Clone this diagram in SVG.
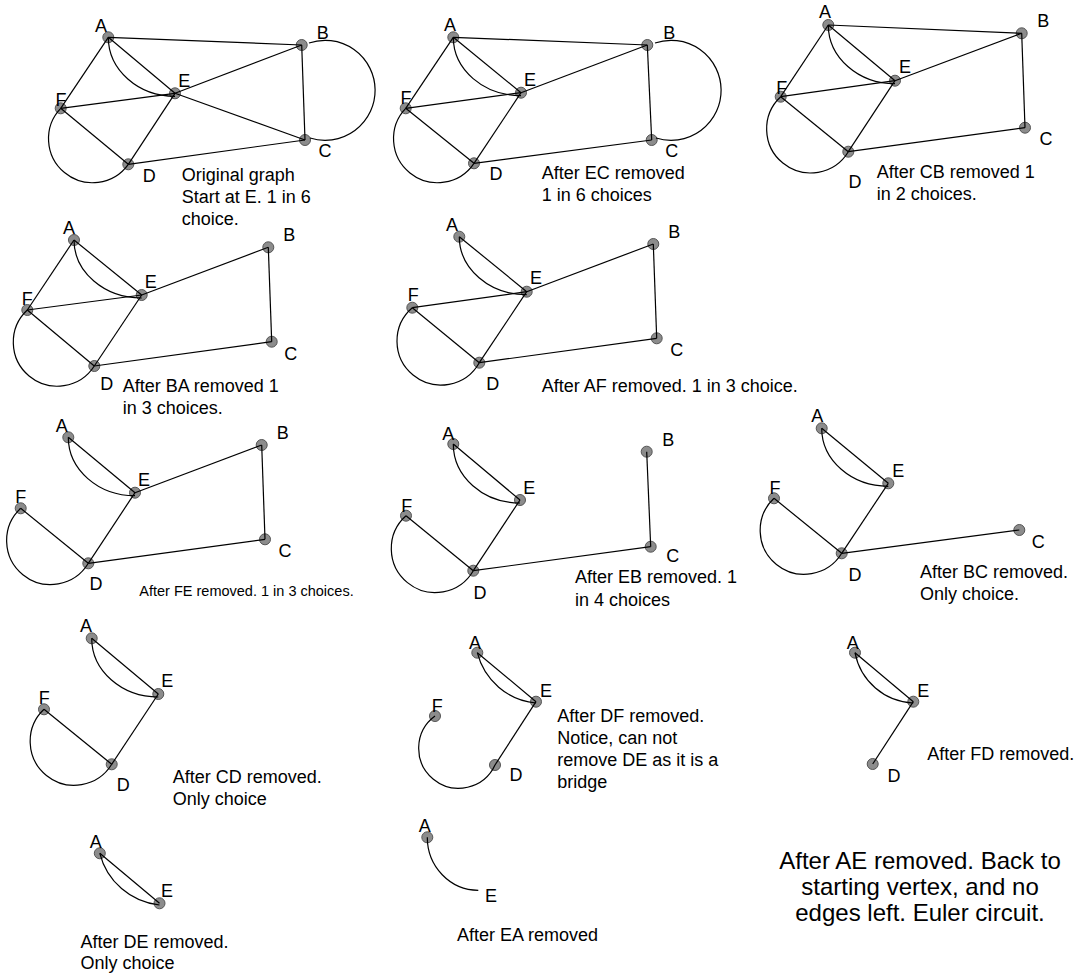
<svg xmlns="http://www.w3.org/2000/svg" width="1083" height="974" viewBox="0 0 1083 974">
<style>
.e{fill:none;stroke:#000;stroke-width:1.2}
.n{fill:#8c8c8c;stroke:#555;stroke-width:1}
.l{font-family:"Liberation Sans",Arial,sans-serif;font-size:18px;fill:#000;text-anchor:middle}
.t{font-family:"Liberation Sans",Arial,sans-serif;font-size:18px;fill:#000}
.s{font-family:"Liberation Sans",Arial,sans-serif;font-size:14.5px;fill:#000}
.b{font-family:"Liberation Sans",Arial,sans-serif;font-size:24px;fill:#000;text-anchor:middle}
</style>
<rect width="1083" height="974" fill="#fff"/>

<!-- Panel 1 -->
<g id="p1">
<g id="p1-A"><circle class="n" cx="108.3" cy="37.3" r="5.5"/><text class="l" x="101" y="31.5">A</text></g>
<g id="p1-B"><circle class="n" cx="301.7" cy="45" r="5.5"/><text class="l" x="322.7" y="38.5">B</text></g>
<g id="p1-E"><circle class="n" cx="175" cy="93.3" r="5.5"/><text class="l" x="184.3" y="86.5">E</text></g>
<g id="p1-F"><circle class="n" cx="60.7" cy="108.3" r="5.5"/><text class="l" x="61" y="105.5">F</text></g>
<g id="p1-C"><circle class="n" cx="305" cy="140" r="5.5"/><text class="l" x="325" y="157.2">C</text></g>
<g id="p1-D"><circle class="n" cx="128.3" cy="164.3" r="5.5"/><text class="l" x="149.3" y="181.5">D</text></g>
<g id="p1-edges">
<line class="e" x1="108.3" y1="37.3" x2="301.7" y2="45"/>
<line class="e" x1="108.3" y1="37.3" x2="175" y2="93.3"/>
<path class="e" d="M108.3,37.3 A66.7,59 0 0,0 175,96.3"/>
<line class="e" x1="108.3" y1="37.3" x2="60.7" y2="108.3"/>
<line class="e" x1="60.7" y1="108.3" x2="175" y2="93.3"/>
<line class="e" x1="60.7" y1="108.3" x2="128.3" y2="164.3"/>
<path class="e" d="M60.7,108.3 A44,44 0 1,0 128.3,164.3"/>
<line class="e" x1="128.3" y1="164.3" x2="175" y2="93.3"/>
<line class="e" x1="128.3" y1="164.3" x2="305" y2="140"/>
<line class="e" x1="175" y1="93.3" x2="301.7" y2="45"/>
<line class="e" x1="175" y1="93.3" x2="305" y2="140"/>
<line class="e" x1="301.7" y1="45" x2="305" y2="140"/>
<path class="e" d="M309,43 A50,50 0 1,1 310,138"/>
</g>
<text class="t" x="181.7" y="181">Original graph</text>
<text class="t" x="181.7" y="203">Start at E. 1 in 6</text>
<text class="t" x="181.7" y="225">choice.</text>
</g>

<!-- Panel 2 -->
<g id="p2">
<g id="p2-A"><circle class="n" cx="453.3" cy="37.3" r="5.5"/><text class="l" x="450" y="30.8">A</text></g>
<g id="p2-B"><circle class="n" cx="647.3" cy="45" r="5.5"/><text class="l" x="669.3" y="38.5">B</text></g>
<g id="p2-E"><circle class="n" cx="521" cy="92.7" r="5.5"/><text class="l" x="530" y="85.8">E</text></g>
<g id="p2-F"><circle class="n" cx="405.7" cy="108.3" r="5.5"/><text class="l" x="406" y="103.5">F</text></g>
<g id="p2-C"><circle class="n" cx="651.7" cy="140" r="5.5"/><text class="l" x="671.7" y="156.5">C</text></g>
<g id="p2-D"><circle class="n" cx="474" cy="163.3" r="5.5"/><text class="l" x="496" y="179.8">D</text></g>
<g id="p2-edges">
<line class="e" x1="453.3" y1="37.3" x2="647.3" y2="45"/>
<line class="e" x1="453.3" y1="37.3" x2="521" y2="92.7"/>
<path class="e" d="M453.3,37.3 A67.7,58.4 0 0,0 521,95.7"/>
<line class="e" x1="453.3" y1="37.3" x2="405.7" y2="108.3"/>
<line class="e" x1="405.7" y1="108.3" x2="521" y2="92.7"/>
<line class="e" x1="405.7" y1="108.3" x2="474" y2="163.3"/>
<path class="e" d="M405.7,108.3 A44,44 0 1,0 474,163.3"/>
<line class="e" x1="474" y1="163.3" x2="521" y2="92.7"/>
<line class="e" x1="474" y1="163.3" x2="651.7" y2="140"/>
<line class="e" x1="521" y1="92.7" x2="647.3" y2="45"/>
<line class="e" x1="647.3" y1="45" x2="651.7" y2="140"/>
<path class="e" d="M655,43 A50,50 0 1,1 656,138"/>
</g>
<text class="t" x="541.7" y="179">After EC removed</text>
<text class="t" x="541.7" y="201">1 in 6 choices</text>
</g>

<!-- Panel 3 -->
<g id="p3">
<g id="p3-A"><circle class="n" cx="828.3" cy="25" r="5.5"/><text class="l" x="825" y="18.2">A</text></g>
<g id="p3-B"><circle class="n" cx="1021.7" cy="33.3" r="5.5"/><text class="l" x="1043.3" y="26.5">B</text></g>
<g id="p3-E"><circle class="n" cx="895" cy="80.7" r="5.5"/><text class="l" x="905" y="72.8">E</text></g>
<g id="p3-F"><circle class="n" cx="780.7" cy="96.7" r="5.5"/><text class="l" x="781.7" y="94.2">F</text></g>
<g id="p3-C"><circle class="n" cx="1025" cy="127.7" r="5.5"/><text class="l" x="1046" y="145.2">C</text></g>
<g id="p3-D"><circle class="n" cx="848.3" cy="151.7" r="5.5"/><text class="l" x="855" y="188.2">D</text></g>
<g id="p3-edges">
<line class="e" x1="828.3" y1="25" x2="1021.7" y2="33.3"/>
<line class="e" x1="828.3" y1="25" x2="895" y2="80.7"/>
<path class="e" d="M828.3,25 A66.7,58.7 0 0,0 895,83.7"/>
<line class="e" x1="828.3" y1="25" x2="780.7" y2="96.7"/>
<line class="e" x1="780.7" y1="96.7" x2="895" y2="80.7"/>
<line class="e" x1="780.7" y1="96.7" x2="848.3" y2="151.7"/>
<path class="e" d="M780.7,96.7 A44,44 0 1,0 848.3,151.7"/>
<line class="e" x1="848.3" y1="151.7" x2="895" y2="80.7"/>
<line class="e" x1="848.3" y1="151.7" x2="1025" y2="127.7"/>
<line class="e" x1="895" y1="80.7" x2="1021.7" y2="33.3"/>
<line class="e" x1="1021.7" y1="33.3" x2="1025" y2="127.7"/>
</g>
<text class="t" x="876.7" y="178">After CB removed 1</text>
<text class="t" x="876.7" y="200">in 2 choices.</text>
</g>

<!-- Panel 4 -->
<g id="p4">
<g id="p4-A"><circle class="n" cx="74" cy="240" r="5.5"/><text class="l" x="69" y="233.5">A</text></g>
<g id="p4-B"><circle class="n" cx="268.3" cy="247.3" r="5.5"/><text class="l" x="289.3" y="240.8">B</text></g>
<g id="p4-E"><circle class="n" cx="141.7" cy="295" r="5.5"/><text class="l" x="150.7" y="288.2">E</text></g>
<g id="p4-F"><circle class="n" cx="27.3" cy="310" r="5.5"/><text class="l" x="27.3" y="305.2">F</text></g>
<g id="p4-C"><circle class="n" cx="271.7" cy="341.7" r="5.5"/><text class="l" x="290.7" y="359.5">C</text></g>
<g id="p4-D"><circle class="n" cx="94.3" cy="366" r="5.5"/><text class="l" x="106.7" y="389.5">D</text></g>
<g id="p4-edges">
<line class="e" x1="74" y1="240" x2="141.7" y2="295"/>
<path class="e" d="M74,240 A67.7,58 0 0,0 141.7,298"/>
<line class="e" x1="74" y1="240" x2="27.3" y2="310"/>
<line class="e" x1="27.3" y1="310" x2="141.7" y2="295"/>
<line class="e" x1="27.3" y1="310" x2="94.3" y2="366"/>
<path class="e" d="M27.3,310 A44,44 0 1,0 94.3,366"/>
<line class="e" x1="94.3" y1="366" x2="141.7" y2="295"/>
<line class="e" x1="94.3" y1="366" x2="271.7" y2="341.7"/>
<line class="e" x1="141.7" y1="295" x2="268.3" y2="247.3"/>
<line class="e" x1="268.3" y1="247.3" x2="271.7" y2="341.7"/>
</g>
<text class="t" x="122.7" y="391.5">After BA removed 1</text>
<text class="t" x="122.7" y="413.5">in 3 choices.</text>
</g>

<!-- Panel 5 -->
<g id="p5">
<g id="p5-A"><circle class="n" cx="459.3" cy="236.7" r="5.5"/><text class="l" x="452" y="230.9">A</text></g>
<g id="p5-B"><circle class="n" cx="653.3" cy="244" r="5.5"/><text class="l" x="674.3" y="237.5">B</text></g>
<g id="p5-E"><circle class="n" cx="526.7" cy="291.7" r="5.5"/><text class="l" x="536" y="283.5">E</text></g>
<g id="p5-F"><circle class="n" cx="412.3" cy="307.7" r="5.5"/><text class="l" x="413.3" y="300.8">F</text></g>
<g id="p5-C"><circle class="n" cx="656.7" cy="338.3" r="5.5"/><text class="l" x="676.7" y="356.2">C</text></g>
<g id="p5-D"><circle class="n" cx="479.3" cy="362.7" r="5.5"/><text class="l" x="492.7" y="389.8">D</text></g>
<g id="p5-edges">
<line class="e" x1="459.3" y1="236.7" x2="526.7" y2="291.7"/>
<path class="e" d="M459.3,236.7 A67.4,58 0 0,0 526.7,294.7"/>
<line class="e" x1="412.3" y1="307.7" x2="526.7" y2="291.7"/>
<line class="e" x1="412.3" y1="307.7" x2="479.3" y2="362.7"/>
<path class="e" d="M412.3,307.7 A44,44 0 1,0 479.3,362.7"/>
<line class="e" x1="479.3" y1="362.7" x2="526.7" y2="291.7"/>
<line class="e" x1="479.3" y1="362.7" x2="656.7" y2="338.3"/>
<line class="e" x1="526.7" y1="291.7" x2="653.3" y2="244"/>
<line class="e" x1="653.3" y1="244" x2="656.7" y2="338.3"/>
</g>
<text class="t" x="541.7" y="391.5">After AF removed. 1 in 3 choice.</text>
</g>

<!-- Panel 6 -->
<g id="p6">
<g id="p6-A"><circle class="n" cx="68.3" cy="437.3" r="5.5"/><text class="l" x="61.7" y="431.8">A</text></g>
<g id="p6-B"><circle class="n" cx="261.7" cy="445" r="5.5"/><text class="l" x="282.7" y="439.2">B</text></g>
<g id="p6-E"><circle class="n" cx="135" cy="492.7" r="5.5"/><text class="l" x="144" y="486.2">E</text></g>
<g id="p6-F"><circle class="n" cx="20.7" cy="508.3" r="5.5"/><text class="l" x="20.7" y="502.8">F</text></g>
<g id="p6-C"><circle class="n" cx="265" cy="539.3" r="5.5"/><text class="l" x="285" y="556.5">C</text></g>
<g id="p6-D"><circle class="n" cx="88.3" cy="563.3" r="5.5"/><text class="l" x="96" y="589.8">D</text></g>
<g id="p6-edges">
<line class="e" x1="68.3" y1="437.3" x2="135" y2="492.7"/>
<path class="e" d="M68.3,437.3 A66.7,58.4 0 0,0 135,495.7"/>
<line class="e" x1="20.7" y1="508.3" x2="88.3" y2="563.3"/>
<path class="e" d="M20.7,508.3 A44,44 0 1,0 88.3,563.3"/>
<line class="e" x1="88.3" y1="563.3" x2="135" y2="492.7"/>
<line class="e" x1="88.3" y1="563.3" x2="265" y2="539.3"/>
<line class="e" x1="135" y1="492.7" x2="261.7" y2="445"/>
<line class="e" x1="261.7" y1="445" x2="265" y2="539.3"/>
</g>
<text class="s" x="139.3" y="596">After FE removed. 1 in 3 choices.</text>
</g>

<!-- Panel 7 -->
<g id="p7">
<g id="p7-A"><circle class="n" cx="453.3" cy="444" r="5.5"/><text class="l" x="448.3" y="439.5">A</text></g>
<g id="p7-B"><circle class="n" cx="646.7" cy="451.7" r="5.5"/><text class="l" x="668.3" y="446.2">B</text></g>
<g id="p7-E"><circle class="n" cx="520" cy="500" r="5.5"/><text class="l" x="529.3" y="493.5">E</text></g>
<g id="p7-F"><circle class="n" cx="406" cy="515.7" r="5.5"/><text class="l" x="406.7" y="511.8">F</text></g>
<g id="p7-C"><circle class="n" cx="650.7" cy="546.7" r="5.5"/><text class="l" x="672.7" y="562">C</text></g>
<g id="p7-D"><circle class="n" cx="473.3" cy="570.7" r="5.5"/><text class="l" x="480" y="598.5">D</text></g>
<g id="p7-edges">
<line class="e" x1="453.3" y1="444" x2="520" y2="500"/>
<path class="e" d="M453.3,444 A66.7,59 0 0,0 520,503"/>
<line class="e" x1="406" y1="515.7" x2="473.3" y2="570.7"/>
<path class="e" d="M406,515.7 A44,44 0 1,0 473.3,570.7"/>
<line class="e" x1="473.3" y1="570.7" x2="520" y2="500"/>
<line class="e" x1="473.3" y1="570.7" x2="650.7" y2="546.7"/>
<line class="e" x1="646.7" y1="451.7" x2="650.7" y2="546.7"/>
</g>
<text class="t" x="575" y="583">After EB removed. 1</text>
<text class="t" x="575" y="606">in 4 choices</text>
</g>

<!-- Panel 8 -->
<g id="p8">
<g id="p8-A"><circle class="n" cx="821.7" cy="428.3" r="5.5"/><text class="l" x="817.3" y="421.5">A</text></g>
<g id="p8-E"><circle class="n" cx="888.3" cy="483.3" r="5.5"/><text class="l" x="898.3" y="476.5">E</text></g>
<g id="p8-F"><circle class="n" cx="774" cy="498.3" r="5.5"/><text class="l" x="775" y="494.2">F</text></g>
<g id="p8-C"><circle class="n" cx="1019.3" cy="530" r="5.5"/><text class="l" x="1038.3" y="548.2">C</text></g>
<g id="p8-D"><circle class="n" cx="841.7" cy="553.3" r="5.5"/><text class="l" x="855" y="580.5">D</text></g>
<g id="p8-edges">
<line class="e" x1="821.7" y1="428.3" x2="888.3" y2="483.3"/>
<path class="e" d="M821.7,428.3 A66.6,58 0 0,0 888.3,486.3"/>
<line class="e" x1="774" y1="498.3" x2="841.7" y2="553.3"/>
<path class="e" d="M774,498.3 A44,44 0 1,0 841.7,553.3"/>
<line class="e" x1="841.7" y1="553.3" x2="888.3" y2="483.3"/>
<line class="e" x1="841.7" y1="553.3" x2="1019.3" y2="530"/>
</g>
<text class="t" x="920" y="578">After BC removed.</text>
<text class="t" x="920" y="600">Only choice.</text>
</g>

<!-- Panel 9 -->
<g id="p9">
<g id="p9-A"><circle class="n" cx="91.7" cy="638.3" r="5.5"/><text class="l" x="86" y="632.2">A</text></g>
<g id="p9-E"><circle class="n" cx="158.3" cy="694" r="5.5"/><text class="l" x="167.3" y="686.5">E</text></g>
<g id="p9-F"><circle class="n" cx="44" cy="709.3" r="5.5"/><text class="l" x="44.3" y="703.8">F</text></g>
<g id="p9-D"><circle class="n" cx="111.7" cy="764.3" r="5.5"/><text class="l" x="123.3" y="790.8">D</text></g>
<g id="p9-edges">
<line class="e" x1="91.7" y1="638.3" x2="158.3" y2="694"/>
<path class="e" d="M91.7,638.3 A66.6,58.7 0 0,0 158.3,697"/>
<line class="e" x1="44" y1="709.3" x2="111.7" y2="764.3"/>
<path class="e" d="M44,709.3 A44,44 0 1,0 111.7,764.3"/>
<line class="e" x1="111.7" y1="764.3" x2="158.3" y2="694"/>
</g>
<text class="t" x="172.7" y="782.5">After CD removed.</text>
<text class="t" x="172.7" y="804.5">Only choice</text>
</g>

<!-- Panel 10 -->
<g id="p10">
<g id="p10-A"><circle class="n" cx="477.3" cy="652.7" r="5.5"/><text class="l" x="475" y="648.5">A</text></g>
<g id="p10-E"><circle class="n" cx="536" cy="701.7" r="5.5"/><text class="l" x="546" y="696.8">E</text></g>
<g id="p10-F"><circle class="n" cx="435" cy="716" r="5.5"/><text class="l" x="437.3" y="711.8">F</text></g>
<g id="p10-D"><circle class="n" cx="495" cy="765" r="5.5"/><text class="l" x="516" y="780.5">D</text></g>
<g id="p10-edges">
<line class="e" x1="477.3" y1="652.7" x2="536" y2="701.7"/>
<path class="e" d="M477.3,652.7 A67,67 0 0,0 536,703"/>
<path class="e" d="M435,716 A40,40 0 1,0 495,765"/>
<line class="e" x1="495" y1="765" x2="536" y2="701.7"/>
</g>
<text class="t" x="557.3" y="722">After DF removed.</text>
<text class="t" x="557.3" y="744">Notice, can not</text>
<text class="t" x="557.3" y="766">remove DE as it is a</text>
<text class="t" x="557.3" y="788">bridge</text>
</g>

<!-- Panel 11 -->
<g id="p11">
<g id="p11-A"><circle class="n" cx="855" cy="652.7" r="5.5"/><text class="l" x="852.7" y="648.5">A</text></g>
<g id="p11-E"><circle class="n" cx="913.3" cy="701.7" r="5.5"/><text class="l" x="923.3" y="696.8">E</text></g>
<g id="p11-D"><circle class="n" cx="872.7" cy="764" r="5.5"/><text class="l" x="894" y="781.5">D</text></g>
<g id="p11-edges">
<line class="e" x1="855" y1="652.7" x2="913.3" y2="701.7"/>
<path class="e" d="M855,652.7 A62,62 0 0,0 913.3,703"/>
<line class="e" x1="913.3" y1="701.7" x2="872.7" y2="764"/>
</g>
<text class="t" x="927.3" y="759.8">After FD removed.</text>
</g>

<!-- Panel 12 -->
<g id="p12">
<g id="p12-A"><circle class="n" cx="99.8" cy="853.3" r="5.5"/><text class="l" x="95.7" y="848.2">A</text></g>
<g id="p12-E"><circle class="n" cx="159.5" cy="903.3" r="5.5"/><text class="l" x="167.1" y="896.5">E</text></g>
<g id="p12-edges">
<line class="e" x1="99.8" y1="853.3" x2="159.5" y2="903.3"/>
<path class="e" d="M99.8,853.3 A69,69 0 0,0 159.5,905"/>
</g>
<text class="t" x="80.4" y="947.5">After DE removed.</text>
<text class="t" x="80.4" y="969">Only choice</text>
</g>

<!-- Panel 13 -->
<g id="p13">
<g id="p13-A"><circle class="n" cx="427.3" cy="837.3" r="5.5"/><text class="l" x="424.8" y="831.5">A</text></g>
<g id="p13-E"><text class="l" x="491.1" y="901.8">E</text></g>
<g id="p13-edges">
<path class="e" d="M427.3,837.3 A51,53 0 0,0 478.3,890.3"/>
</g>
<text class="t" x="457" y="940.8">After EA removed</text>
</g>

<!-- Final note -->
<g id="final">
<text class="b" x="920" y="869">After AE removed. Back to</text>
<text class="b" x="920" y="895">starting vertex, and no</text>
<text class="b" x="920" y="921">edges left. Euler circuit.</text>
</g>
</svg>
